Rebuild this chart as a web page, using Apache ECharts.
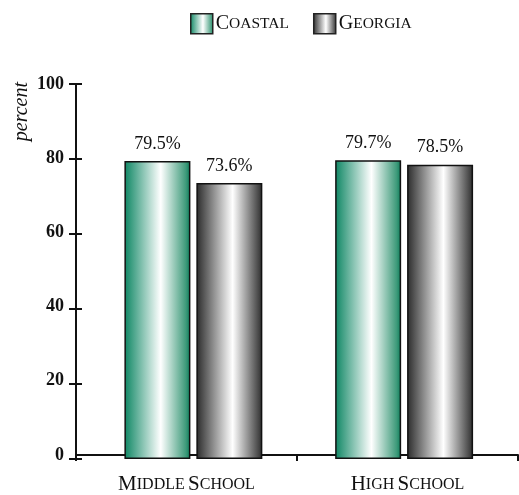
<!DOCTYPE html>
<html>
<head>
<meta charset="utf-8">
<script src="https://cdn.jsdelivr.net/npm/echarts@6/dist/echarts.min.js"></script>
<style>html,body{margin:0;padding:0;background:#fff;}#chart{width:519px;height:495px;}</style>
</head>
<body>
<div id="chart"></div>
<script>
var categories = [['M', 'IDDLE', 'S', 'CHOOL'], ['H', 'IGH', 'S', 'CHOOL']];
var seriesNames = [['C', 'OASTAL'], ['G', 'EORGIA']];
var coastal = [79.5, 79.7];
var georgia = [73.6, 78.5];
var yTicks = [0, 20, 40, 60, 80, 100];

var FONT = '"Liberation Serif", "Times New Roman", serif';
var chart = echarts.init(document.getElementById('chart'));

function catLabel(parts) {
  return '{b|' + parts[0] + '}{s|' + parts[1] + '} {b|' + parts[2] + '}{s|' + parts[3] + '}';
}
var catNames = categories.map(catLabel);
var seriesLabels = seriesNames.map(function (p) { return p[0] + p[1]; });

var greenGrad = new echarts.graphic.LinearGradient(0, 0, 1, 0, [
  {offset: 0, color: '#0d8663'},
  {offset: 0.55, color: '#ffffff'},
  {offset: 0.93, color: '#3f9b7b'},
  {offset: 1, color: '#0a7b59'}
]);
var grayGrad = new echarts.graphic.LinearGradient(0, 0, 1, 0, [
  {offset: 0, color: '#2a2a2a'},
  {offset: 0.55, color: '#ffffff'},
  {offset: 0.95, color: '#444444'},
  {offset: 1, color: '#2a2a2a'}
]);

var richCat = {
  b: {fontFamily: FONT, fontSize: 21, color: '#111'},
  s: {fontFamily: FONT, fontSize: 16, color: '#111'}
};
var richLegend = {
  b: {fontFamily: FONT, fontSize: 20, color: '#111'},
  s: {fontFamily: FONT, fontSize: 15.5, color: '#111'}
};

var labelStyle = {
  show: true, position: 'top', distance: 8,
  fontFamily: FONT, fontSize: 18, color: '#111',
  formatter: function (p) { return p.value.toFixed(1) + '%'; }
};

var option = {
  animation: false,
  backgroundColor: '#fff',
  legend: {
    left: 190, top: 13, padding: 0,
    icon: 'rect',
    itemWidth: 22, itemHeight: 20, itemGap: 24,
    data: seriesLabels,
    formatter: function (name) {
      var i = seriesLabels.indexOf(name);
      return '{b|' + seriesNames[i][0] + '}{s|' + seriesNames[i][1] + '}';
    },
    textStyle: {padding: [0, 0, 0, -2], rich: richLegend},
    itemStyle: {borderColor: '#222', borderWidth: 1.5}
  },
  grid: [
    {left: 76, right: 1, top: 84, bottom: 36},
    {left: 88, right: 9.5, top: 84, bottom: 36},
    {left: 76, right: 1, top: 84, bottom: 36}
  ],
  xAxis: [
    {
      type: 'category', gridIndex: 0, data: catNames,
      axisLine: {lineStyle: {color: '#111', width: 2}},
      axisTick: {show: true, length: 6, lineStyle: {color: '#111', width: 2}},
      axisLabel: {margin: 19, rich: richCat, formatter: function (v) { return v; }}
    },
    {
      type: 'category', gridIndex: 1, data: catNames, show: false
    },
    {
      type: 'category', gridIndex: 2, data: catNames, show: false
    }
  ],
  yAxis: [
    {
      type: 'value', gridIndex: 0, min: 0, max: 100, interval: 20,
      axisLine: {show: true, lineStyle: {color: '#111', width: 2}},
      axisTick: {show: false},
      axisLabel: {margin: 12, fontFamily: FONT, fontSize: 18, fontWeight: 'bold', color: '#111',
        formatter: function (v) { return yTicks.indexOf(v) >= 0 ? String(v) : ''; }},
      splitLine: {show: false}
    },
    {
      type: 'value', gridIndex: 1, min: 0, max: 100, show: false, splitLine: {show: false}
    },
    {
      type: 'value', gridIndex: 2, min: 0, max: 100, interval: 20, position: 'left', offset: -6,
      axisLine: {show: true, lineStyle: {color: 'rgba(0,0,0,0)', width: 1}},
      axisTick: {show: true, length: 13, lineStyle: {color: '#111', width: 2}},
      axisLabel: {show: false}, splitLine: {show: false}
    }
  ],
  graphic: [{
    type: 'text', left: 12, top: 82, rotation: Math.PI / 2,
    style: {text: 'percent', font: 'italic 20px ' + FONT, fill: '#111'}
  }],
  series: [
    {
      name: seriesLabels[0], type: 'bar', xAxisIndex: 1, yAxisIndex: 1,
      data: coastal, barWidth: 66, barGap: '9%',
      itemStyle: {color: greenGrad, borderColor: '#111', borderWidth: 1.5},
      label: labelStyle
    },
    {
      name: seriesLabels[1], type: 'bar', xAxisIndex: 1, yAxisIndex: 1,
      data: georgia, barWidth: 66, barGap: '9%',
      itemStyle: {color: grayGrad, borderColor: '#111', borderWidth: 1.5},
      label: labelStyle
    }
  ]
};
chart.setOption(option);
</script>
</body>
</html>
